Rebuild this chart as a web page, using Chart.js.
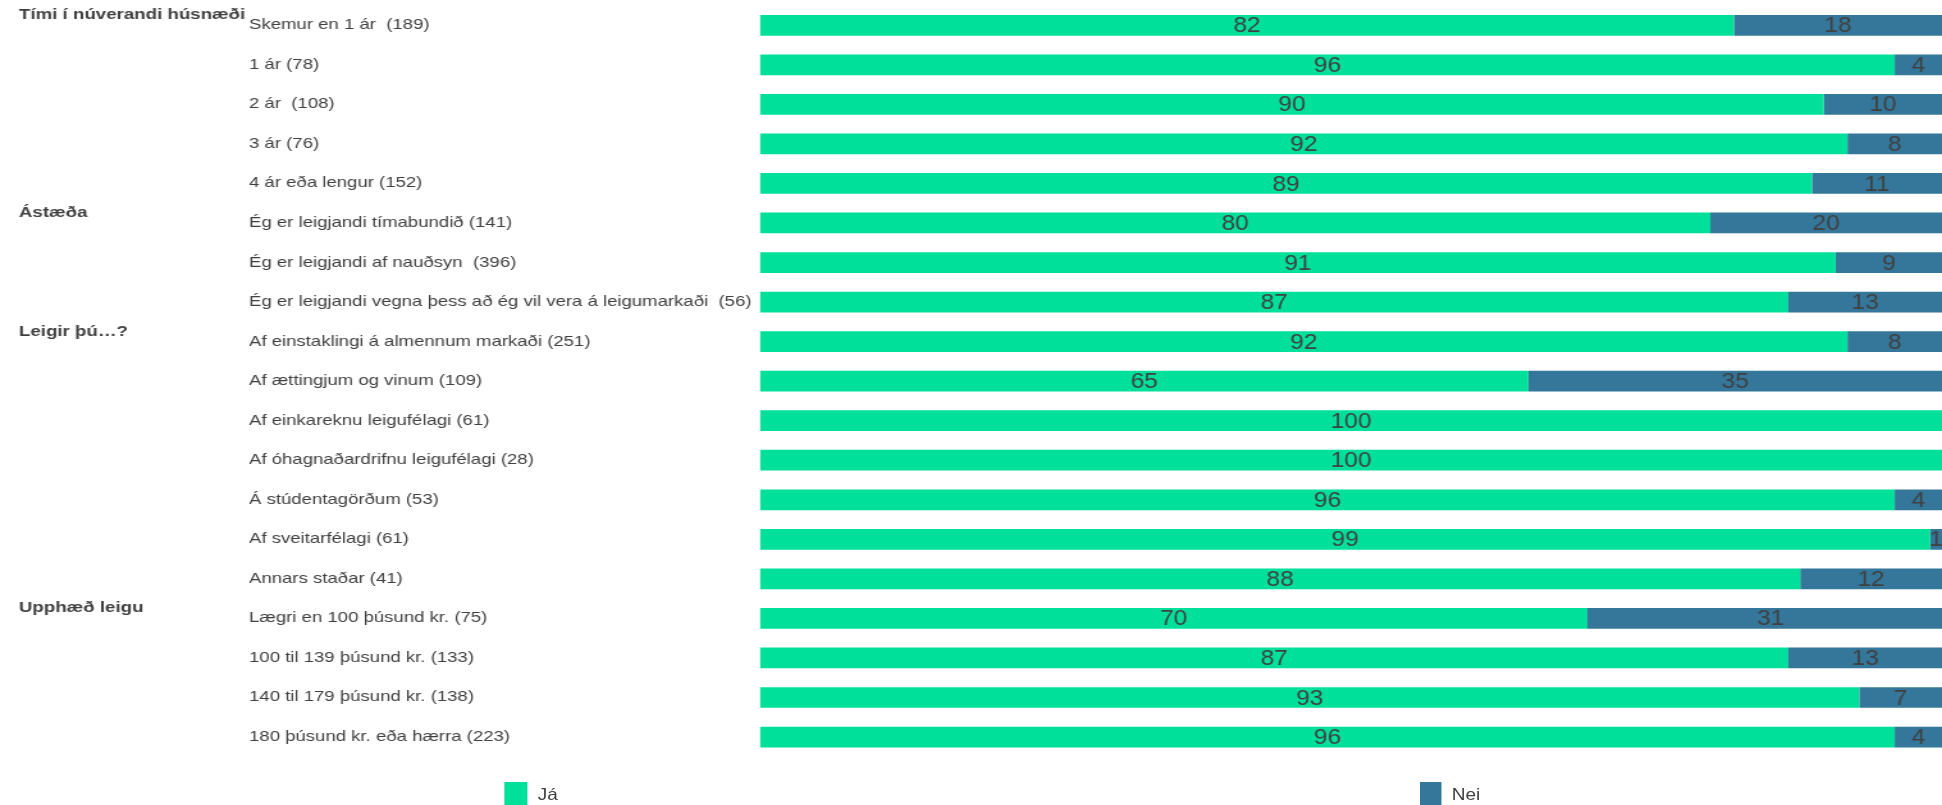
<!DOCTYPE html>
<html>
<head>
<meta charset="utf-8">
<script src="https://cdn.jsdelivr.net/npm/chart.js@4/dist/chart.umd.min.js"></script>
<style>
  html, body { margin: 0; padding: 0; background: #fff; overflow: hidden; }
  /* the reference is stretched sideways, so draw narrow and stretch */
  #wrap {
    position: relative;
    width: 1517px;
    height: 805px;
    transform: scaleX(1.28016);
    transform-origin: 0 0;
  }
  .key { position: absolute; top: 782px; width: 17.5px; height: 24px; }
  .key-text {
    position: absolute; top: 785px;
    font: 16.5px "Liberation Sans", Arial, sans-serif; color: #404040;
    transform: scaleX(0.9); transform-origin: 0 0;
  }
</style>
</head>
<body>
<div id="wrap">
  <canvas id="chart"></canvas>
  <div class="key" style="left:394px;background:#00e09a"></div>
  <div class="key-text" style="left:419.5px">Já</div>
  <div class="key" style="left:1108.6px;background:#34779a"></div>
  <div class="key-text" style="left:1134.4px">Nei</div>
</div>
<script>
const categories = [
  "Skemur en 1 ár  (189)",
  "1 ár (78)",
  "2 ár  (108)",
  "3 ár (76)",
  "4 ár eða lengur (152)",
  "Ég er leigjandi tímabundið (141)",
  "Ég er leigjandi af nauðsyn  (396)",
  "Ég er leigjandi vegna þess að ég vil vera á leigumarkaði  (56)",
  "Af einstaklingi á almennum markaði (251)",
  "Af ættingjum og vinum (109)",
  "Af einkareknu leigufélagi (61)",
  "Af óhagnaðardrifnu leigufélagi (28)",
  "Á stúdentagörðum (53)",
  "Af sveitarfélagi (61)",
  "Annars staðar (41)",
  "Lægri en 100 þúsund kr. (75)",
  "100 til 139 þúsund kr. (133)",
  "140 til 179 þúsund kr. (138)",
  "180 þúsund kr. eða hærra (223)"
];
const jaValues = [82.4, 96, 90, 92, 89, 80.4, 91, 87, 92, 65, 100, 100, 96, 99, 88, 70, 87, 93, 96];
const neiValues = [17.6, 4, 10, 8, 11, 19.6, 9, 13, 8, 35, 0, 0, 4, 1, 12, 31, 13, 7, 4];

const groupLabels = ["Tími í núverandi húsnæði", "Ástæða", "Leigir þú…?", "Upphæð leigu"];
const groupStarts = [0, 5, 8, 15];

const fontFamily = '"Liberation Sans", Arial, sans-serif';
const textColor = "#404040";

// numbers in the middle of each bar piece (a bit narrower than the stretched text)
const barLabels = {
  id: "barLabels",
  afterDatasetsDraw(chart) {
    const ctx = chart.ctx;
    const squeeze = 0.87;
    ctx.save();
    ctx.font = "22px " + fontFamily;
    ctx.fillStyle = textColor;
    ctx.textAlign = "center";
    ctx.textBaseline = "middle";
    chart.data.datasets.forEach((ds, i) => {
      chart.getDatasetMeta(i).data.forEach((bar, j) => {
        const v = ds.data[j];
        if (!v) return;
        const cx = (bar.x + bar.base) / 2;
        ctx.save();
        ctx.translate(cx, bar.y + 1);
        ctx.scale(squeeze, 1);
        ctx.fillText(Math.round(v), 0, 0);
        ctx.restore();
      });
    });
    ctx.restore();
  }
};

// bold group headings next to the first row of each group
const groupHeadings = {
  id: "groupHeadings",
  afterDraw(chart) {
    const ctx = chart.ctx;
    const y = chart.scales.y;
    ctx.save();
    ctx.font = "bold 14.6px " + fontFamily;
    ctx.fillStyle = textColor;
    ctx.textAlign = "left";
    ctx.textBaseline = "middle";
    groupLabels.forEach((g, i) => {
      ctx.fillText(g, 14.8, y.getPixelForValue(groupStarts[i]) - 10);
    });
    ctx.restore();
  }
};

new Chart(document.getElementById("chart"), {
  type: "bar",
  data: {
    labels: categories,
    datasets: [
      { label: "Já", data: jaValues, backgroundColor: "#00e09a" },
      { label: "Nei", data: neiValues, backgroundColor: "#34779a" }
    ]
  },
  options: {
    indexAxis: "y",
    responsive: true,
    maintainAspectRatio: false,
    animation: false,
    barPercentage: 0.524,
    categoryPercentage: 1,
    layout: { padding: { left: 194.5, right: 0, top: 5.5, bottom: 48.2 } },
    plugins: {
      legend: { display: false },
      tooltip: { enabled: false }
    },
    scales: {
      x: { stacked: true, min: 0, max: 100, display: false },
      y: {
        stacked: true,
        grid: { display: false },
        border: { display: false },
        afterFit: (scale) => {
          scale.width = 399.2;
          scale.paddingTop = 0;
          scale.paddingBottom = 0;
        },
        ticks: {
          crossAlign: "far",
          color: textColor,
          font: { family: fontFamily, size: 14.5 }
        }
      }
    }
  },
  plugins: [barLabels, groupHeadings]
});
</script>
</body>
</html>
